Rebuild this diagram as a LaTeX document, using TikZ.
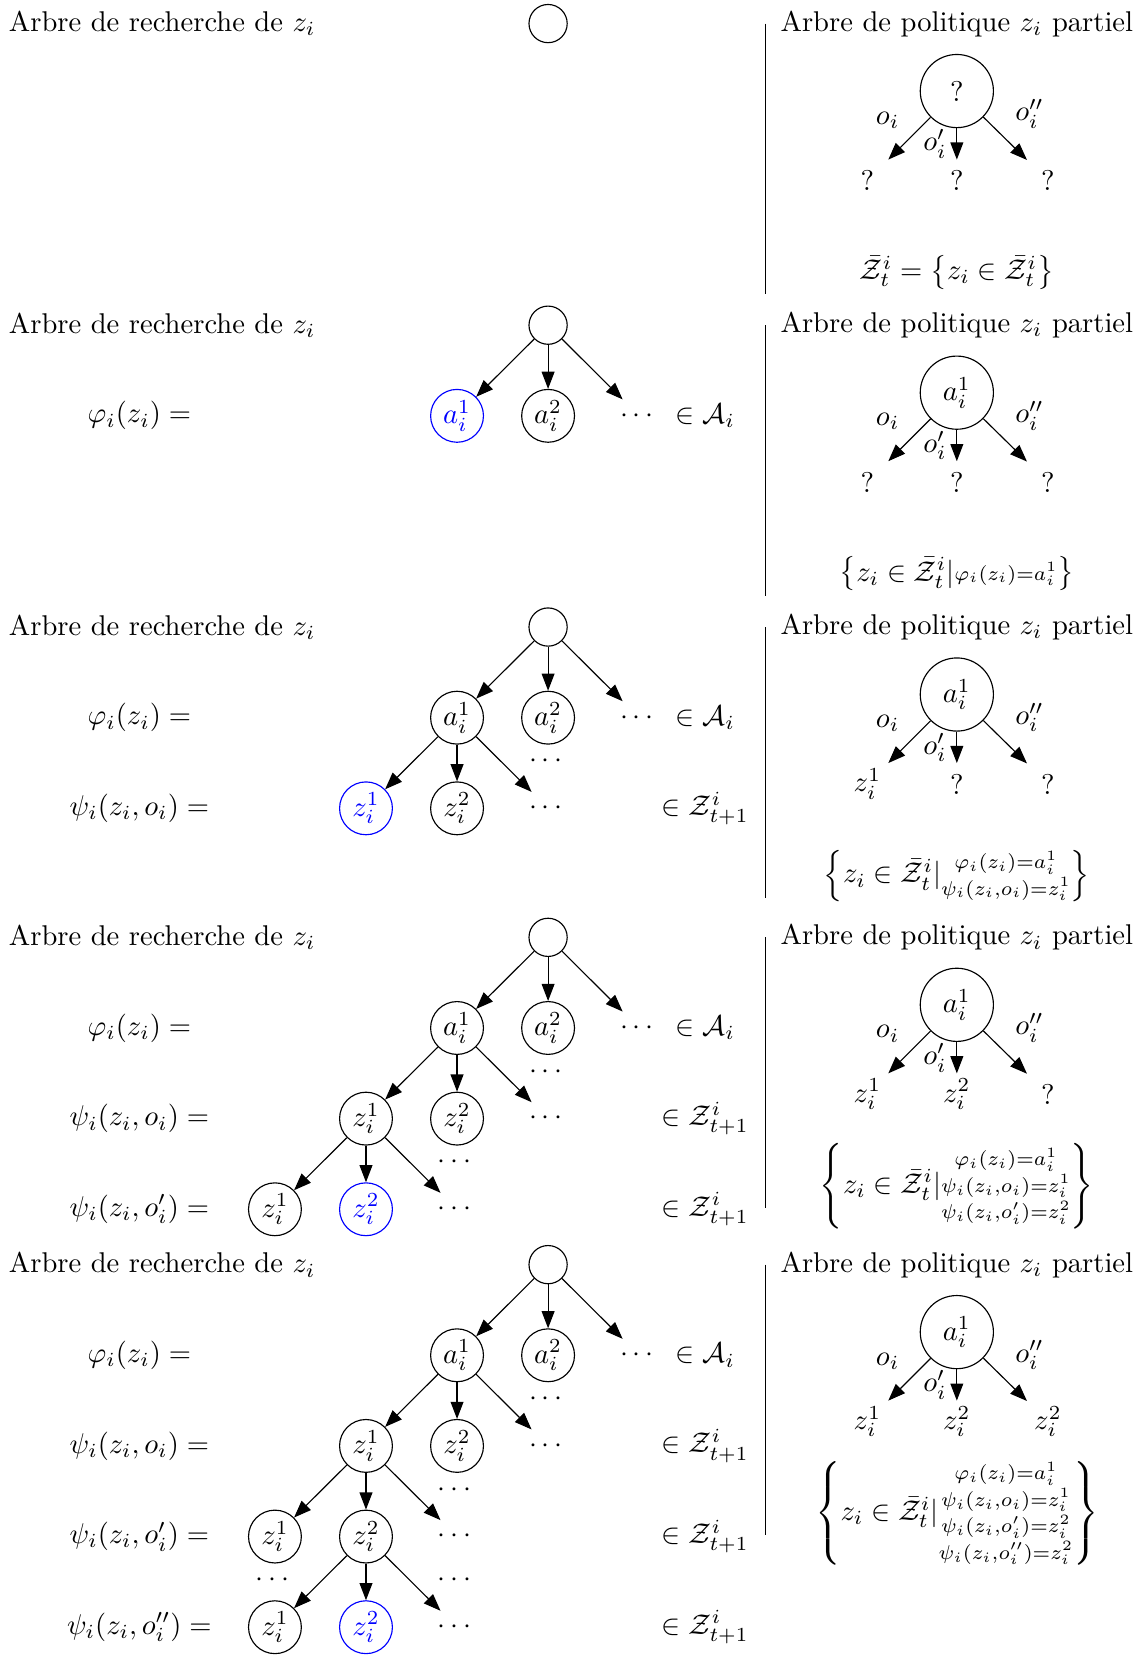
\documentclass[tikz,border=0pt]{standalone}
\usepackage{amsmath,amssymb}
\usetikzlibrary{arrows.meta,calc}

\tikzset{
  st/.style={circle,draw,inner sep=0pt,minimum size=0.65cm},
  sel/.style={st,blue},
  rootst/.style={circle,draw,minimum size=0.47cm},
  pol/.style={circle,draw,inner sep=0pt,minimum size=0.9cm},
  leaf/.style={inner sep=0pt,minimum size=0.5cm},
}

\begin{document}
\begin{tikzpicture}[>={Triangle[length=6pt,width=4.5pt]}]
  \useasboundingbox (0,0) rectangle (14.023,-20.358);
  % titles, separators and partial policy trees
  \foreach \y/\ra/\qa/\qb/\qc/\fm [count=\k] in {
    0.29/?/?/?/?/{$\bar{\mathcal{Z}}^i_t=\left\{z_i\in\bar{\mathcal{Z}}^i_t\right\}$},
    4.00/$a_i^1$/?/?/?/{$\left\{z_i\in\bar{\mathcal{Z}}^i_t|\substack{\varphi_i(z_i)=a_i^1}\right\}$},
    7.713/$a_i^1$/$z_i^1$/?/?/{$\left\{z_i\in\bar{\mathcal{Z}}^i_t|\substack{\varphi_i(z_i)=a_i^1\\\psi_i(z_i,o_i)=z_i^1}\right\}$},
    11.53/$a_i^1$/$z_i^1$/$z_i^2$/?/{$\left\{z_i\in\bar{\mathcal{Z}}^i_t|\substack{\varphi_i(z_i)=a_i^1\\\psi_i(z_i,o_i)=z_i^1\\\psi_i(z_i,o'_i)=z_i^2}\right\}$},
    15.556/$a_i^1$/$z_i^1$/$z_i^2$/$z_i^2$/{$\left\{z_i\in\bar{\mathcal{Z}}^i_t|\substack{\varphi_i(z_i)=a_i^1\\\psi_i(z_i,o_i)=z_i^1\\\psi_i(z_i,o'_i)=z_i^2\\\psi_i(z_i,o''_i)=z_i^2}\right\}$}}
  {
    \node[anchor=west,inner sep=0pt] (t\k) at (0.103,-\y) {Arbre de recherche de $z_i$};
    \node[rootst] (root\k) at (6.742,-\y) {};
    \node (u\k) at (11.77,-\y) {Arbre de politique $z_i$ partiel};
    \coordinate (s\k) at (9.414,-\y);
    \coordinate (e\k) at ($(s\k)+(0,-3.33)$);
    \draw (s\k) -- (e\k);
    \node[pol] (p\k) at ($(u\k)+(0,-0.83)$) {\ra};
    \node[leaf] (pa\k) at ($(p\k)+(-1.1,-1.1)$) {\qa};
    \node[leaf] (pb\k) at ($(p\k)+(0,-1.1)$) {\qb};
    \node[leaf] (pc\k) at ($(p\k)+(1.12,-1.1)$) {\qc};
    \draw[->] (p\k) -- node[above left] {$o_i$} (pa\k);
    \draw[->] (p\k) -- node[left] {$o'_i$} (pb\k);
    \draw[->] (p\k) -- node[above right] {$o''_i$} (pc\k);
    \node (f\k) at ($(u\k)+(0,-3.06)$) {\fm};
  }
  % first level: actions
  \foreach \y/\k/\col in {4.00/2/blue,7.713/3/black,11.53/4/black,15.556/5/black}{
    \node (phi\k) at (1.714,-\y-1.115) {$\varphi_i(z_i) =$};
    \node[st,\col] (a1\k) at (5.622,-\y-1.115) {$a_i^1$};
    \node[st] (a2\k) at (6.742,-\y-1.115) {$a_i^2$};
    \node (ad\k) at (7.862,-\y-1.115) {$\cdots$};
    \node (inA\k) at (8.675,-\y-1.115) {$\in \mathcal{A}_i$};
    \foreach \n in {a1,a2,ad} \draw[->] (root\k) -- (\n\k);
  }
  % second level: observations after a_i^1
  \foreach \y/\k/\col in {7.713/3/blue,11.53/4/black,15.556/5/black}{
    \node (psi\k) at (1.714,-\y-2.23) {$\psi_i(z_i,o_i) =$};
    \node[st,\col] (z1\k) at (4.502,-\y-2.23) {$z_i^1$};
    \node[st] (z2\k) at (5.622,-\y-2.23) {$z_i^2$};
    \node (zd\k) at (6.742,-\y-2.23) {$\cdots$};
    \node (m1\k) at (6.742,-\y-1.655) {$\cdots$};
    \node (inZ\k) at (8.675,-\y-2.23) {$\in \mathcal{Z}^i_{t+1}$};
    \foreach \n in {z1,z2,zd} \draw[->] (a1\k) -- (\n\k);
  }
  % third level
  \foreach \y/\k/\col in {11.53/4/blue,15.556/5/black}{
    \node (psiB\k) at (1.714,-\y-3.345) {$\psi_i(z_i,o'_i) =$};
    \node[st] (y1\k) at (3.382,-\y-3.345) {$z_i^1$};
    \node[st,\col] (y2\k) at (4.502,-\y-3.345) {$z_i^2$};
    \node (yd\k) at (5.622,-\y-3.345) {$\cdots$};
    \node (m2\k) at (5.622,-\y-2.77) {$\cdots$};
    \node (inZB\k) at (8.675,-\y-3.345) {$\in \mathcal{Z}^i_{t+1}$};
    \foreach \n in {y1,y2,yd} \draw[->] (z1\k) -- (\n\k);
  }
  % fourth level, last panel only
  \node (psiC) at (1.714,-20.016) {$\psi_i(z_i,o''_i) =$};
  \node[st] (x1) at (3.382,-20.016) {$z_i^1$};
  \node[sel] (x2) at (4.502,-20.016) {$z_i^2$};
  \node (xd) at (5.622,-20.016) {$\cdots$};
  \node (m3) at (3.382,-19.441) {$\cdots$};
  \node (m4) at (5.622,-19.441) {$\cdots$};
  \node (inZC) at (8.675,-20.016) {$\in \mathcal{Z}^i_{t+1}$};
  \foreach \n in {x1,x2,xd} \draw[->] (y25) -- (\n);
\end{tikzpicture}
\end{document}
